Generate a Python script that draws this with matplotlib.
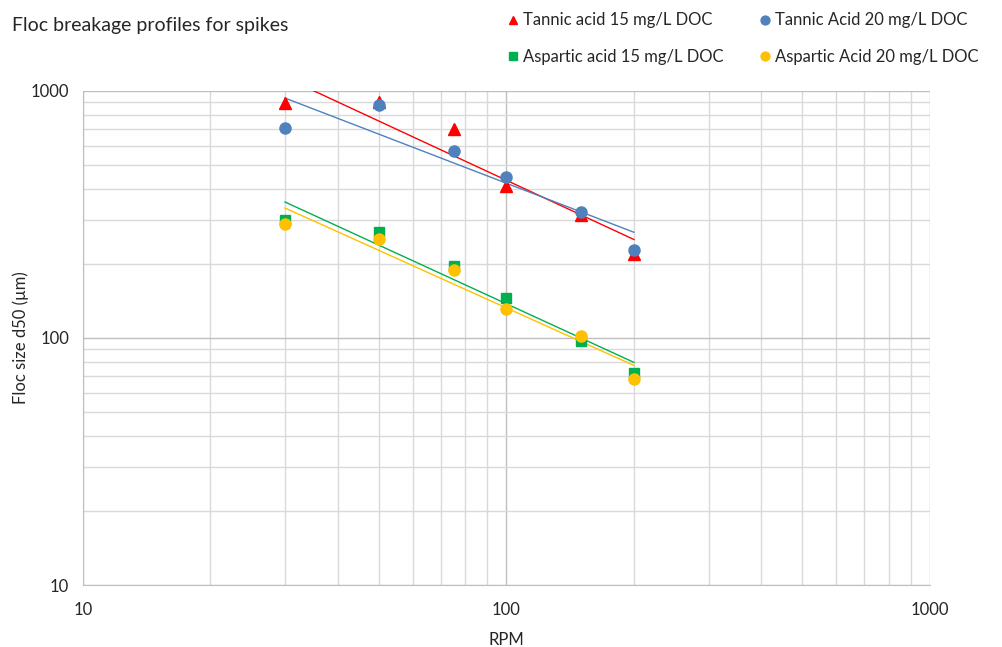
import numpy as np
import matplotlib
matplotlib.use("Agg")
import matplotlib.pyplot as plt
from matplotlib.ticker import LogLocator, NullFormatter, FixedLocator, FixedFormatter

plt.rcParams['font.family'] = ['Lato', 'DejaVu Sans']

rpm = [30, 50, 75, 100, 150, 200]
tannic15 = [894, 900, 702, 412, 315, 219]
tannic20 = [708, 878, 572, 449, 324, 227]
aspartic15 = [300, 269, 195, 145, 97, 72]
aspartic20 = [290, 251, 188, 131, 102, 68]

series = [
    ("Tannic acid 15 mg/L DOC", tannic15, "#FF0000", "^", 8),
    ("Tannic Acid 20 mg/L DOC", tannic20, "#4F81BD", "o", 8),
    ("Aspartic acid 15 mg/L DOC", aspartic15, "#00B050", "s", 7.5),
    ("Aspartic Acid 20 mg/L DOC", aspartic20, "#FFC000", "o", 8),
]

fig = plt.figure(figsize=(10.02, 6.47), dpi=100)
ax = fig.add_axes([0.0828, 0.0958, 0.8453, 0.7636])

x = np.array(rpm, dtype=float)
handles = []
for label, ys, color, marker, ms in series:
    y = np.array(ys, dtype=float)
    h, = ax.plot(x, y, linestyle='none', marker=marker, color=color, markersize=ms,
                 label=label, zorder=3)
    handles.append(h)
    b, a = np.polyfit(np.log10(x), np.log10(y), 1)
    xt = np.array([x.min(), x.max()])
    ax.plot(xt, 10 ** (a + b * np.log10(xt)), color=color, linewidth=1.0, zorder=2)

ax.set_xscale('log')
ax.set_yscale('log')
ax.set_xlim(10, 1000)
ax.set_ylim(10, 1000)

ax.xaxis.set_major_locator(FixedLocator([10, 100, 1000]))
ax.xaxis.set_major_formatter(FixedFormatter(['10', '100', '1000']))
ax.yaxis.set_major_locator(FixedLocator([10, 100, 1000]))
ax.yaxis.set_major_formatter(FixedFormatter(['10', '100', '1000']))
ax.xaxis.set_minor_locator(LogLocator(base=10, subs=np.arange(2, 10)))
ax.yaxis.set_minor_locator(LogLocator(base=10, subs=np.arange(2, 10)))
ax.xaxis.set_minor_formatter(NullFormatter())
ax.yaxis.set_minor_formatter(NullFormatter())

ax.grid(True, which='major', color='#BFBFBF', linewidth=1.0, zorder=0)
ax.grid(True, which='minor', color='#D9D9D9', linewidth=1.0, zorder=0)
ax.set_axisbelow(True)
ax.tick_params(which='both', length=0, labelsize=12, colors='#262626')
ax.tick_params(axis='x', pad=12)
ax.tick_params(axis='y', pad=10)

for s in ['top', 'right']:
    ax.spines[s].set_visible(False)
for s in ['left', 'bottom']:
    ax.spines[s].set_color('#BFBFBF')

ax.set_xlabel('RPM', fontsize=12, color='#262626', labelpad=10)
ax.set_ylabel('Floc size d50 (µm)', fontsize=12, color='#262626', va='center')
ax.yaxis.set_label_coords(-0.074, 0.5)

fig.text(0.012, 0.960, 'Floc breakage profiles for spikes', fontsize=14, color='#262626',
         va='center', ha='left')

order = [0, 2, 1, 3]
leg = fig.legend(handles=[handles[i] for i in order], loc='upper right',
                 bbox_to_anchor=(0.992, 1.004), ncol=2,
                 frameon=False, fontsize=12, handlelength=0.6, handletextpad=0.3,
                 columnspacing=2.2, labelspacing=1.25, markerscale=0.8)
for t in leg.get_texts():
    t.set_color('#262626')

fig.savefig('out.png', dpi=100)
